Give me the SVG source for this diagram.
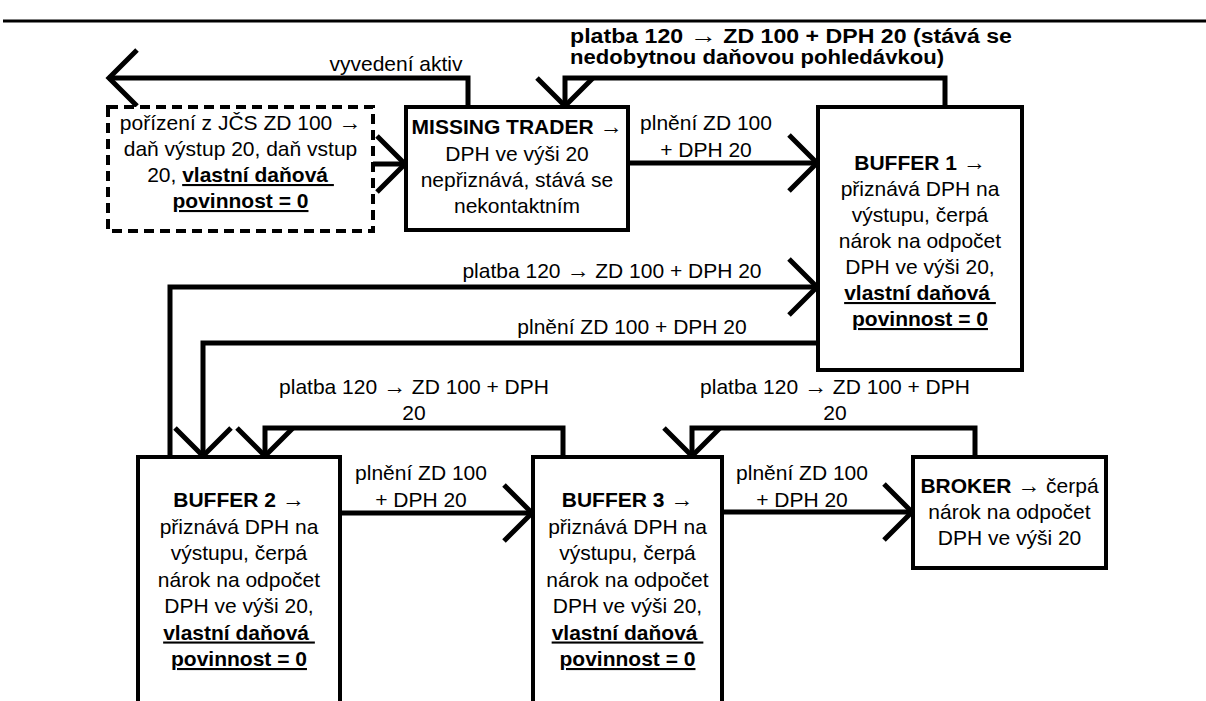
<svg xmlns="http://www.w3.org/2000/svg" width="1206" height="701" viewBox="0 0 1206 701">
<style>
  .box{fill:#fff;stroke:#000;stroke-width:4}
  .dash{stroke-dasharray:10 6}
  .ln{fill:none;stroke:#000;stroke-width:5;marker-end:url(#chev)}
  text{font-family:"Liberation Sans",Arial,sans-serif;font-size:21px;fill:#000;text-anchor:middle}
  .b{font-weight:bold}
  .u{font-weight:bold;text-decoration:underline}
  .ar{font-weight:normal;font-size:23px}
  .st{text-anchor:start}
</style>
<defs>
  <marker id="chev" markerUnits="userSpaceOnUse" viewBox="-40 -40 80 80" markerWidth="80" markerHeight="80" refX="0" refY="0" orient="auto">
    <path d="M-29,-28 L-1,0 L-29,28" fill="none" stroke="#000" stroke-width="5"/>
  </marker>
</defs>
<rect width="1206" height="701" fill="#fff"/>
<line x1="3" y1="21" x2="1206" y2="21" stroke="#000" stroke-width="3"/>

<g id="connectors">
  <!-- acquisition -> missing trader -->
  <path class="ln" d="M373,164 H406"/>
  <!-- asset removal -->
  <path class="ln" d="M468,107 V78 H108"/>
  <text x="396" y="71">vyvedení aktiv</text>
  <!-- missing trader -> buffer 1 -->
  <path class="ln" d="M628,163 H818"/>
  <text x="706" y="130">plnění ZD 100</text>
  <text x="706" y="157">+ DPH 20</text>
  <!-- buffer 1 pays missing trader -->
  <path class="ln" d="M945,107 V78 H565 V107"/>
  <text class="b st" x="570" y="43" textLength="442" lengthAdjust="spacingAndGlyphs" style="font-size:19.5px">platba 120 <tspan class="ar">→</tspan> ZD 100 + DPH 20 (stává se</text>
  <text class="b st" x="570" y="64" textLength="374" lengthAdjust="spacingAndGlyphs" style="font-size:19.5px">nedobytnou daňovou pohledávkou)</text>
  <!-- buffer 2 pays buffer 1 -->
  <path class="ln" d="M170,457 V287 H818"/>
  <text x="612" y="278">platba 120 <tspan class="ar">→</tspan> ZD 100 + DPH 20</text>
  <!-- buffer 1 -> buffer 2 -->
  <path class="ln" d="M818,343 H203 V457"/>
  <text x="632" y="334">plnění ZD 100 + DPH 20</text>
  <!-- buffer 3 pays buffer 2 -->
  <path class="ln" d="M563,457 V428 H265 V457"/>
  <text x="414" y="394">platba 120 <tspan class="ar">→</tspan> ZD 100 + DPH</text>
  <text x="414" y="420">20</text>
  <!-- buffer 2 -> buffer 3 -->
  <path class="ln" d="M340,513 H533"/>
  <text x="421" y="480">plnění ZD 100</text>
  <text x="421" y="507">+ DPH 20</text>
  <!-- broker pays buffer 3 -->
  <path class="ln" d="M975,457 V428 H692 V457"/>
  <text x="835" y="394">platba 120 <tspan class="ar">→</tspan> ZD 100 + DPH</text>
  <text x="835" y="420">20</text>
  <!-- buffer 3 -> broker -->
  <path class="ln" d="M722,512 H913"/>
  <text x="802" y="480">plnění ZD 100</text>
  <text x="802" y="507">+ DPH 20</text>
</g>

<g id="acquisition">
  <rect class="box dash" x="108" y="107" width="265" height="124"/>
  <text x="240.5" y="130">pořízení z JČS ZD 100 <tspan class="ar">→</tspan></text>
  <text x="240.5" y="156">daň výstup 20, daň vstup</text>
  <text x="240.5" y="182">20, <tspan class="u">vlastní daňová&#160;</tspan></text>
  <text x="240.5" y="208"><tspan class="u">povinnost = 0</tspan></text>
</g>

<g id="missing-trader">
  <rect class="box" x="406" y="107" width="222" height="123"/>
  <text x="517" y="134"><tspan class="b">MISSING TRADER</tspan> <tspan class="ar">→</tspan></text>
  <text x="517" y="161">DPH ve výši 20</text>
  <text x="517" y="187">nepřiznává, stává se</text>
  <text x="517" y="213">nekontaktním</text>
</g>

<g id="buffer-1">
  <rect class="box" x="818" y="107" width="204" height="263"/>
  <text x="920" y="170"><tspan class="b">BUFFER 1</tspan> <tspan class="ar">→</tspan></text>
  <text x="920" y="196">přiznává DPH na</text>
  <text x="920" y="222">výstupu, čerpá</text>
  <text x="920" y="248">nárok na odpočet</text>
  <text x="920" y="274">DPH ve výši 20,</text>
  <text x="920" y="300"><tspan class="u">vlastní daňová&#160;</tspan></text>
  <text x="920" y="326"><tspan class="u">povinnost = 0</tspan></text>
</g>

<g id="buffer-2">
  <rect class="box" x="138" y="457" width="202" height="270"/>
  <text x="239" y="507"><tspan class="b">BUFFER 2</tspan> <tspan class="ar">→</tspan></text>
  <text x="239" y="533.5">přiznává DPH na</text>
  <text x="239" y="560">výstupu, čerpá</text>
  <text x="239" y="586.5">nárok na odpočet</text>
  <text x="239" y="613">DPH ve výši 20,</text>
  <text x="239" y="639.5"><tspan class="u">vlastní daňová&#160;</tspan></text>
  <text x="239" y="666"><tspan class="u">povinnost = 0</tspan></text>
</g>

<g id="buffer-3">
  <rect class="box" x="533" y="457" width="189" height="270"/>
  <text x="627.5" y="507"><tspan class="b">BUFFER 3</tspan> <tspan class="ar">→</tspan></text>
  <text x="627.5" y="533.5">přiznává DPH na</text>
  <text x="627.5" y="560">výstupu, čerpá</text>
  <text x="627.5" y="586.5">nárok na odpočet</text>
  <text x="627.5" y="613">DPH ve výši 20,</text>
  <text x="627.5" y="639.5"><tspan class="u">vlastní daňová&#160;</tspan></text>
  <text x="627.5" y="666"><tspan class="u">povinnost = 0</tspan></text>
</g>

<g id="broker">
  <rect class="box" x="913" y="457" width="193" height="111"/>
  <text x="1009.5" y="493"><tspan class="b">BROKER</tspan> <tspan class="ar">→</tspan> čerpá</text>
  <text x="1009.5" y="519">nárok na odpočet</text>
  <text x="1009.5" y="545">DPH ve výši 20</text>
</g>
</svg>
